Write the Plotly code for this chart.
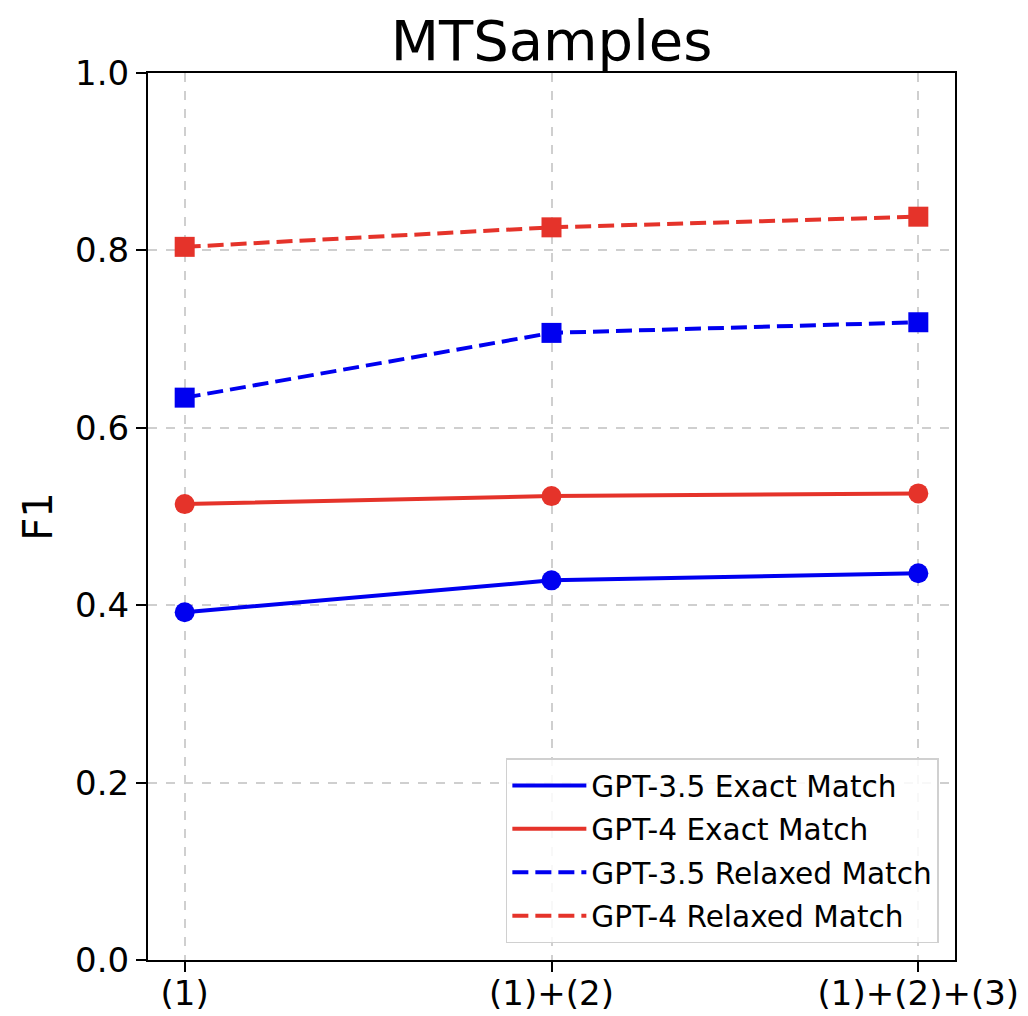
import plotly.graph_objects as go

categories = ["(1)", "(1)+(2)", "(1)+(2)+(3)"]
gpt35_exact = [0.392, 0.428, 0.436]
gpt4_exact = [0.514, 0.523, 0.526]
gpt35_relaxed = [0.634, 0.707, 0.719]
gpt4_relaxed = [0.804, 0.826, 0.838]
yticks = [0.0, 0.2, 0.4, 0.6, 0.8, 1.0]

BLUE = "#0000F0"
RED = "#E5332A"
DASH = "16px,7px"

W, H = 1028, 1016

xs = list(range(len(categories)))
fig = go.Figure()
series = [
    ("GPT-3.5 Exact Match", gpt35_exact, BLUE, "solid", "circle", 20),
    ("GPT-4 Exact Match", gpt4_exact, RED, "solid", "circle", 20),
    ("GPT-3.5 Relaxed Match", gpt35_relaxed, BLUE, DASH, "square", 20),
    ("GPT-4 Relaxed Match", gpt4_relaxed, RED, DASH, "square", 20),
]
for i, (name, ys, color, dash, sym, size) in enumerate(series):
    fig.add_trace(go.Scatter(
        x=xs, y=ys, name=name, mode="lines+markers", showlegend=False,
        line=dict(color=color, width=4, dash=dash),
        marker=dict(symbol=sym, size=size, color=color),
    ))
for i, (name, ys, color, dash, sym, size) in enumerate(series):
    fig.add_trace(go.Scatter(
        x=[None], y=[None], name=name, mode="lines", legendgroup=f"g{i}",
        line=dict(color=color, width=4, dash=dash),
    ))

fig.update_layout(
    width=W, height=H,
    paper_bgcolor="white", plot_bgcolor="white",
    margin=dict(l=148, r=73, t=73, b=56, autoexpand=False),
    font=dict(family="DejaVu Sans", color="black"),
    title=dict(text="MTSamples", x=0.5, xref="paper", y=1 - 40/H, yanchor="middle",
               xanchor="center", font=dict(size=56, family="DejaVu Sans", color="black")),
    legend=dict(x=0.98, y=0.019, xanchor="right", yanchor="bottom",
                bgcolor="rgba(255,255,255,0.85)", bordercolor="#d0d0d0", borderwidth=1.5,
                font=dict(size=29.6, family="DejaVu Sans"), itemwidth=74,
                tracegroupgap=2),
    showlegend=True,
)
fig.update_xaxes(
    range=[-0.1, 2.1], tickmode="array", tickvals=xs, ticktext=categories,
    showline=True, linecolor="black", linewidth=2, mirror=True, automargin=False,
    ticks="outside", ticklen=10, tickwidth=2, tickcolor="black",
    tickfont=dict(size=34, family="DejaVu Sans"), ticklabelstandoff=-8,
    showgrid=True, gridcolor="#cfcfcf", griddash="dash", gridwidth=1.5, zeroline=False,
)
fig.update_yaxes(
    range=[0, 1.0], tickmode="array", tickvals=yticks,
    ticktext=[f"{v:.1f}" for v in yticks],
    showline=True, linecolor="black", linewidth=2, mirror=True, automargin=False,
    ticks="outside", ticklen=10, tickwidth=2, tickcolor="black",
    tickfont=dict(size=34, family="DejaVu Sans"),
    title=dict(text="F1", font=dict(size=40, family="DejaVu Sans"), standoff=10),
    showgrid=True, gridcolor="#cfcfcf", griddash="dash", gridwidth=1.5, zeroline=False,
)
fig.write_html(
    "out.html",
    config={"displayModeBar": False},
    post_script="document.body.style.margin='0';document.body.style.overflow='hidden';",
)
